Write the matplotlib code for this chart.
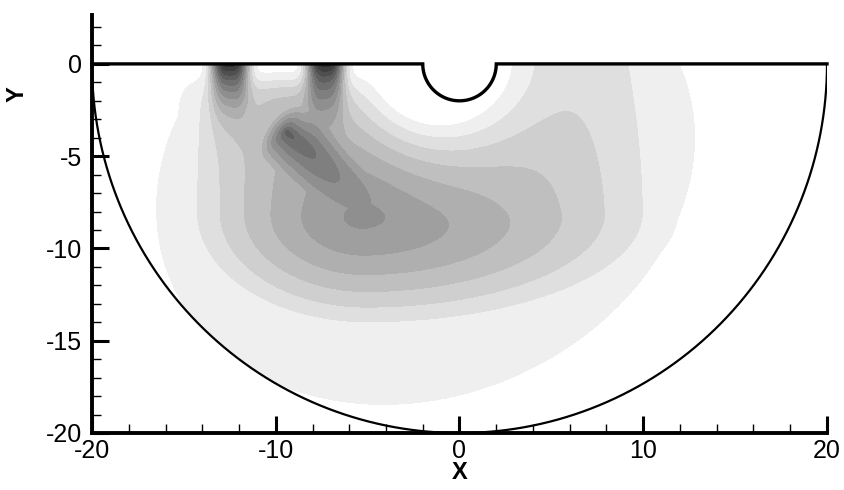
import numpy as np
import matplotlib
matplotlib.use("Agg")
import matplotlib.pyplot as plt
from matplotlib.path import Path
from matplotlib.patches import PathPatch
from matplotlib.ticker import MultipleLocator

plt.rcParams["font.family"] = ["Liberation Sans", "DejaVu Sans"]
plt.rcParams["axes.unicode_minus"] = False

# Geometry of the half-space model: outer boundary radius and surface notch radius
R_OUTER = 20.0
R_NOTCH = 2.0

# Response field built from skewed cone-like lobes:
# centre, reach right/left/down/up (along the tilted axes), tilt, peak value, profile exponent
lobe_cx  = [-5.0, -9.4]
lobe_cy  = [-8.0, -3.7]
lobe_sr  = [17.8, 6.0]
lobe_sl  = [11.0, 1.0]
lobe_sd  = [7.1, 2.0]
lobe_su  = [35.0, 1.7]
lobe_deg = [0.0, -40.0]
lobe_amp = [7.5, 6.5]
lobe_pow = [1.3, 0.8]

# Faint outer skirt of the response (same lobe form, flat top, tilted)
skirt_c = (-2.0, -6.0)
skirt_reach = (16.6, 16.2, 13.1, 13.1)   # right, left, down, up
skirt_deg = 22.0
skirt_amp = 1.0

# Surface loads (x position, peak value, half-width, decay depth)
load_x     = [-12.5, -7.3]
load_amp   = [13.0, 13.0]
load_width = [1.0, 1.0]
load_depth = [1.7, 1.7]

# Contour level edges and their grey shades
level_edges = [0.5] + [k + 0.5 for k in range(1, 14)] + [1000.0]
level_grey  = [0xFF - 0x10 * k for k in range(1, 15)]

x_major, x_minor = 10, 2
y_major, y_minor = 5, 1


def lobe(X, Y, cx, cy, sr, sl, sd, su, deg, amp, pw):
    t = np.deg2rad(deg)
    dx, dy = X - cx, Y - cy
    u = dx * np.cos(t) + dy * np.sin(t)
    w = -dx * np.sin(t) + dy * np.cos(t)
    su_ = np.where(u > 0, sr, sl)
    sw_ = np.where(w < 0, sd, su)
    rho = np.sqrt((u / su_) ** 2 + (w / sw_) ** 2)
    return amp * np.clip(1.0 - rho ** pw, 0.0, None)


xs = np.linspace(-20.5, 20.5, 900)
ys = np.linspace(-20.5, 0.3, 460)
X, Y = np.meshgrid(xs, ys)

body = np.zeros_like(X)
for i in range(len(lobe_cx)):
    body += lobe(X, Y, lobe_cx[i], lobe_cy[i], lobe_sr[i], lobe_sl[i],
                 lobe_sd[i], lobe_su[i], lobe_deg[i], lobe_amp[i], lobe_pow[i])
skirt = lobe(X, Y, skirt_c[0], skirt_c[1], *skirt_reach, skirt_deg, skirt_amp, 8.0)
body = np.maximum(body, skirt)

# quiet zone around the notch and along the loaded part of the surface
rho_n = np.hypot((X + 1.08) / 3.37, Y / 3.04)
m_notch = np.tanh(np.clip(rho_n - 1.0, 0.0, None) / 1.3)
depth = np.clip(-Y, 0, None)
m_surf = 1.0 - np.exp(-(depth / 1.3) ** 2)
w_left = 1.0 / (1.0 + np.exp((X - 1.5) / 0.8))
m_surf = 1.0 - w_left * (1.0 - m_surf)
field = body * m_notch * m_surf

for i in range(len(load_x)):
    field += (load_amp[i] * np.exp(-(np.abs(X - load_x[i]) / load_width[i]) ** 3)
              * np.exp(-(depth / load_depth[i]) ** 1.3))

r = np.hypot(X, Y)
outside = (r > R_OUTER + 0.3) | (r < R_NOTCH - 0.3) | (Y > 0.2)
field = np.ma.masked_where(outside, field)

fig = plt.figure(figsize=(8.45, 4.9), dpi=100)
ax = fig.add_axes([92 / 845, 57 / 490, 735 / 845, 418 / 490])

colors = ["#%02x%02x%02x" % (g, g, g) for g in level_grey]
cs = ax.contourf(X, Y, field, levels=level_edges, colors=colors, antialiased=False)

# domain outline: flat surface with a semicircular notch, closed by the outer arc
a_n = np.linspace(np.pi, 2 * np.pi, 60)
a_o = np.linspace(0, -np.pi, 400)
bx = np.concatenate([[-R_OUTER, -R_NOTCH], R_NOTCH * np.cos(a_n), [R_NOTCH, R_OUTER],
                     R_OUTER * np.cos(a_o)])
by = np.concatenate([[0, 0], R_NOTCH * np.sin(a_n), [0, 0], R_OUTER * np.sin(a_o)])
clip = PathPatch(Path(np.column_stack([bx, by])), transform=ax.transData,
                 facecolor="none", edgecolor="none")
ax.add_patch(clip)
cs.set_clip_path(clip)

top_x = np.concatenate([[-R_OUTER, -R_NOTCH], R_NOTCH * np.cos(a_n), [R_NOTCH, R_OUTER]])
top_y = np.concatenate([[0, 0], R_NOTCH * np.sin(a_n), [0, 0]])
ax.plot(top_x, top_y, color="black", lw=2.4, solid_joinstyle="miter", clip_on=False)
ax.plot(R_OUTER * np.cos(a_o), R_OUTER * np.sin(a_o), color="black", lw=1.6)

ax.set_xlim(-20, 20)
ax.set_ylim(-20, 2.65)
ax.xaxis.set_major_locator(MultipleLocator(x_major))
ax.xaxis.set_minor_locator(MultipleLocator(x_minor))
ax.yaxis.set_major_locator(MultipleLocator(y_major))
ax.yaxis.set_minor_locator(MultipleLocator(y_minor))
for s in ("top", "right"):
    ax.spines[s].set_visible(False)
for s in ("left", "bottom"):
    ax.spines[s].set_linewidth(2.8)
ax.tick_params(which="major", direction="in", length=12, width=2.2, labelsize=18,
               top=False, right=False)
ax.tick_params(which="minor", direction="in", length=6.5, width=1.0,
               top=False, right=False)
ax.tick_params(axis="y", which="major", pad=7)
ax.tick_params(axis="x", which="major", pad=4)

ax.set_xlabel("X", fontsize=17, fontweight="bold")
ax.set_ylabel("Y", fontsize=17, fontweight="bold")
ax.xaxis.set_label_coords(0.5, -0.068)
ax.yaxis.set_label_coords(-0.086, 0.81)

fig.savefig("out.png", dpi=100)
